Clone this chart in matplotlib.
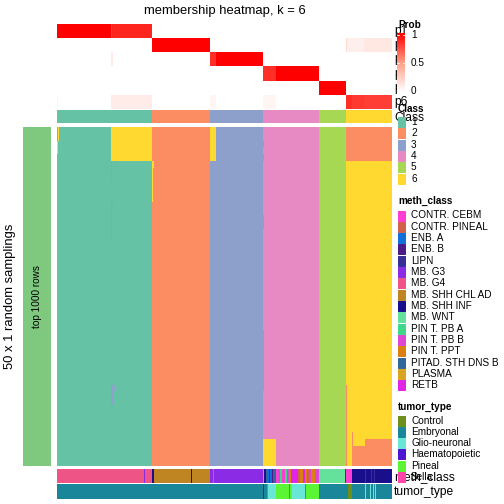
import numpy as np
import matplotlib
matplotlib.use("Agg")
import matplotlib.pyplot as plt
from matplotlib.colors import ListedColormap, LinearSegmentedColormap
from matplotlib.patches import Rectangle

plt.rcParams["font.family"] = ["Liberation Sans", "DejaVu Sans"]

#%% data
class_labels = ["1", "2", "3", "4", "5", "6"]
class_colors = ["#66C2A5", "#FC8D62", "#8DA0CB", "#E78AC3", "#A6D854", "#FFD92F"]
class_sizes = [95, 58, 53, 56, 27, 46]          # samples per class (335 in total)
n_samplings = 50

# membership probabilities: per row (p1..p6) list of (first sample, last sample, prob)
prob_runs = [
    [(0, 54, 1.0), (54, 55, 0.8), (55, 95, 0.88)],
    [(95, 153, 1.0), (289, 290, 0.2), (290, 307, 0.08), (307, 335, 0.12)],
    [(54, 56, 0.1), (153, 159, 0.85), (159, 206, 1.0)],
    [(206, 219, 0.85), (219, 262, 1.0)],
    [(262, 289, 1.0)],
    [(0, 1, 0.05), (54, 95, 0.1), (153, 159, 0.05), (206, 219, 0.05),
     (289, 295, 0.85), (295, 307, 0.82), (307, 335, 0.8)],
]

# class calls of the random samplings that differ from the consensus:
# (first sample, last sample, first sampling, last sampling, class)
sampling_calls = [
    (54, 95, 0, 5, 6), (1, 2, 0, 2, 6), (0, 1, 2, 4, 6),
    (54, 55, 5, 8, 3), (54, 55, 11, 17, 3), (56, 57, 11, 12, 3), (58, 59, 5, 6, 3),
    (54, 56, 38, 41, 3), (57, 58, 38, 39, 3),
    (95, 96, 5, 11, 6), (96, 97, 5, 6, 6),
    (153, 159, 0, 5, 6),
    (206, 207, 2, 3, 3), (206, 207, 4, 5, 3), (206, 207, 13, 15, 3), (206, 207, 30, 39, 3),
    (206, 219, 46, 50, 6),
    (289, 335, 0, 5, 2), (289, 290, 38, 50, 2), (295, 296, 45, 50, 2),
    (296, 308, 47, 50, 2), (308, 335, 46, 50, 2),
]

meth_labels = ["CONTR. CEBM", "CONTR. PINEAL", "ENB. A", "ENB. B", "LIPN", "MB. G3",
               "MB. G4", "MB. SHH CHL AD", "MB. SHH INF", "MB. WNT", "PIN T. PB A",
               "PIN T. PB B", "PIN T. PPT", "PITAD. STH DNS B", "PLASMA", "RETB"]
meth_colors = ["#FF3DD0", "#D2604A", "#0F6FDB", "#4A1B86", "#392D96", "#8B2BE6",
               "#EE5486", "#C08523", "#190F8C", "#64E29B", "#3FD888", "#DF46D3",
               "#D98010", "#33679B", "#D8A61E", "#E025E6"]
meth_runs = [
    ("MB. G4", 87), ("MB. G3", 1), ("MB. G4", 7), ("MB. SHH INF", 2),
    ("MB. SHH CHL AD", 37), ("MB. SHH INF", 1), ("MB. SHH CHL AD", 18),
    ("MB. G3", 3), ("MB. G4", 1), ("MB. G3", 49), ("PLASMA", 1), ("MB. SHH INF", 2),
    ("PITAD. STH DNS B", 1), ("ENB. A", 2), ("LIPN", 1), ("ENB. A", 2), ("ENB. B", 1),
    ("PITAD. STH DNS B", 3), ("CONTR. CEBM", 2), ("PIN T. PB B", 2), ("PIN T. PB A", 2),
    ("CONTR. CEBM", 3), ("PIN T. PB A", 2), ("PIN T. PB B", 2), ("PIN T. PPT", 2),
    ("RETB", 7), ("CONTR. PINEAL", 2), ("PIN T. PPT", 3), ("RETB", 2), ("PIN T. PPT", 2),
    ("CONTR. PINEAL", 2), ("PIN T. PB B", 2), ("PIN T. PPT", 4), ("PIN T. PB B", 4),
    ("MB. WNT", 26), ("LIPN", 1), ("CONTR. CEBM", 6), ("MB. SHH INF", 13), ("LIPN", 1),
    ("MB. SHH INF", 5), ("LIPN", 1), ("MB. SHH INF", 2), ("LIPN", 1), ("MB. SHH INF", 17),
]

tumor_labels = ["Control", "Embryonal", "Glio-neuronal", "Haematopoietic", "Pineal", "Sella"]
tumor_colors = ["#6B8F1A", "#1A8699", "#68E6D6", "#4B16CE", "#5BF536", "#FF44AA"]
tumor_runs = [
    ("Embryonal", 206), ("Haematopoietic", 1), ("Embryonal", 3), ("Sella", 1),
    ("Glio-neuronal", 8), ("Pineal", 13), ("Control", 1), ("Pineal", 2),
    ("Glio-neuronal", 13), ("Control", 1), ("Pineal", 13), ("Embryonal", 29),
    ("Control", 4), ("Embryonal", 13), ("Glio-neuronal", 1), ("Embryonal", 4),
    ("Glio-neuronal", 1), ("Embryonal", 2), ("Glio-neuronal", 1), ("Embryonal", 1),
    ("Glio-neuronal", 1), ("Embryonal", 16),
]

#%% matrices
n = sum(class_sizes)
cls = np.repeat(np.arange(6), class_sizes)

prob = np.zeros((6, n))
for i, runs in enumerate(prob_runs):
    for s, e, v in runs:
        prob[i, s:e] = v

calls = np.tile(cls, (n_samplings, 1))
for c0, c1, r0, r1, k in sampling_calls:
    calls[r0:r1, c0:c1] = k - 1

def runs_to_codes(runs, labels):
    codes = np.concatenate([[labels.index(l)] * w for l, w in runs])
    return np.pad(codes, (0, max(0, n - len(codes))), mode="edge")[:n]

meth = runs_to_codes(meth_runs, meth_labels)
tumor = runs_to_codes(tumor_runs, tumor_labels)

#%% figure
W = H = 504
fig = plt.figure(figsize=(7, 7), dpi=72)

def px_axes(x0, y0, x1, y1, **kw):
    ax = fig.add_axes([x0 / W, 1 - y1 / H, (x1 - x0) / W, (y1 - y0) / H], **kw)
    ax.set_axis_off()
    return ax

prob_cmap = LinearSegmentedColormap.from_list("prob", ["#FFFFFF", "#FF9E86", "#FF0000"])
class_cmap = ListedColormap(class_colors)

L, R = 57, 392
ax_p = px_axes(L, 24, R, 109)
ax_p.imshow(prob, cmap=prob_cmap, vmin=0, vmax=1, aspect="auto", interpolation="nearest")

ax_c = px_axes(L, 110, R, 123)
ax_c.imshow(cls[None, :], cmap=class_cmap, vmin=-0.5, vmax=5.5, aspect="auto",
            interpolation="nearest")

ax_m = px_axes(L, 127, R, 466)
ax_m.imshow(calls, cmap=class_cmap, vmin=-0.5, vmax=5.5, aspect="auto",
            interpolation="nearest")

ax_l = px_axes(23, 127, 51, 466)
ax_l.add_patch(Rectangle((0, 0), 1, 1, color="#7FC97F", transform=ax_l.transAxes))
ax_l.text(0.5, 0.5, "top 1000 rows", rotation=90, ha="center", va="center",
          fontsize=10, transform=ax_l.transAxes)

ax_mc = px_axes(L, 469, R, 483)
ax_mc.imshow(meth[None, :], cmap=ListedColormap(meth_colors), vmin=-0.5,
             vmax=len(meth_colors) - 0.5, aspect="auto", interpolation="nearest")

ax_t = px_axes(L, 484, R, 499)
ax_t.imshow(tumor[None, :], cmap=ListedColormap(tumor_colors), vmin=-0.5,
            vmax=len(tumor_colors) - 0.5, aspect="auto", interpolation="nearest")

#%% texts and legends (pixel overlay)
ov = px_axes(0, 0, W, H)
ov.set_xlim(0, W)
ov.set_ylim(H, 0)

ov.text(224.5, 11, "membership heatmap, k = 6", ha="center", va="center", fontsize=13)
ov.text(10, 296, "50 x 1 random samplings", rotation=90, ha="center", va="center",
        fontsize=13)

for i in range(6):
    ov.text(394, 24 + 14.17 * (i + 0.5), f"p{i + 1}", ha="left", va="center",
            fontsize=12, zorder=1)
ov.text(394, 118, "Class", ha="left", va="center", fontsize=12)
ov.text(394, 477, "meth_class", ha="left", va="center", fontsize=12)
ov.text(394, 492, "tumor_type", ha="left", va="center", fontsize=12)

# Prob colour bar
ov.add_patch(Rectangle((397, 33), 50, 60, color="white", zorder=2))
grad = np.linspace(1, 0, 100)[:, None]
ov.imshow(grad, cmap=prob_cmap, vmin=0, vmax=1, extent=(397, 405, 92, 33),
          aspect="auto", zorder=3)
for v, t in [(1, "1"), (0.5, "0.5"), (0, "0")]:
    y = 91 - 56 * v
    ov.text(411, y, t, ha="left", va="center", fontsize=10, zorder=4)
    ov.plot([397, 399], [y, y], c="white", lw=0.8, zorder=4)
    ov.plot([403, 405], [y, y], c="white", lw=0.8, zorder=4)
ov.text(398, 25, "Prob", ha="left", va="center", fontsize=10, fontweight="bold")

def legend(title, y_title, y0, labels, colors):
    ov.text(398, y_title, title, ha="left", va="center", fontsize=10,
            fontweight="bold", zorder=5)
    for i, (lab, col) in enumerate(zip(labels, colors)):
        y = y0 + 11.33 * i
        ov.add_patch(Rectangle((398, y - 5), 7, 10, color=col, zorder=5))
        ov.text(411, y, lab, ha="left", va="center", fontsize=10, zorder=5)

legend("Class", 109, 122, class_labels, class_colors)
legend("meth_class", 201, 215.5, meth_labels, meth_colors)
legend("tumor_type", 407, 420.5, tumor_labels, tumor_colors)

fig.savefig("out.png", dpi=72, facecolor="w")
